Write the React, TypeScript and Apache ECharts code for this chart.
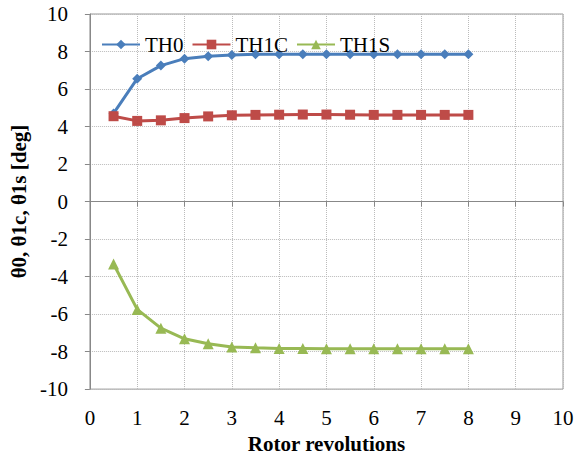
import React, { useEffect, useRef } from "react";
import * as echarts from "echarts";

const revolutions = [0.5, 1, 1.5, 2, 2.5, 3, 3.5, 4, 4.5, 5, 5.5, 6, 6.5, 7, 7.5, 8];
const th0 = [4.7, 6.55, 7.25, 7.62, 7.75, 7.82, 7.85, 7.86, 7.86, 7.86, 7.86, 7.86, 7.86, 7.86, 7.86, 7.86];
const th1c = [4.55, 4.3, 4.33, 4.45, 4.54, 4.6, 4.62, 4.63, 4.64, 4.64, 4.63, 4.62, 4.62, 4.62, 4.62, 4.62];
const th1s = [-3.33, -5.75, -6.75, -7.32, -7.58, -7.75, -7.8, -7.83, -7.84, -7.85, -7.85, -7.85, -7.85, -7.85, -7.85, -7.85];

const font = "serif";

export default function App() {
  const ref = useRef<HTMLDivElement>(null);
  useEffect(() => {
    const chart = echarts.init(ref.current!, undefined, { renderer: "svg" });
    const mk = (arr: number[]) => revolutions.map((x, i) => [x, arr[i]]);
    const diamond = "path://M0,-1L1,0L0,1L-1,0Z";
    const txt = (size: number, bold = false) => ({
      fontFamily: font,
      fontSize: size,
      fontWeight: bold ? "bold" : "normal",
      color: "#000",
    });
    chart.setOption({
      animation: false,
      backgroundColor: "#fff",
      textStyle: { fontFamily: font },
      grid: { left: 85, width: 478, top: 14, height: 385, show: true, borderColor: "#999", borderWidth: 1 },
      legend: {
        left: 96,
        top: 29,
        itemWidth: 38,
        itemHeight: 12,
        itemGap: 8,
        textStyle: txt(21),
        data: ["TH0", "TH1C", "TH1S"],
      },
      xAxis: {
        type: "value",
        min: 0,
        max: 10,
        interval: 1,
        name: "Rotor revolutions",
        nameLocation: "middle",
        nameGap: 38,
        nameTextStyle: txt(21, true),
        axisLine: { lineStyle: { color: "#888", width: 1 } },
        axisTick: { show: true, length: 5, lineStyle: { color: "#888" } },
        axisLabel: { ...txt(21), margin: 18 },
        splitLine: { show: true, lineStyle: { color: "#bbb", type: "dotted", width: 1 } },
      },
      yAxis: {
        type: "value",
        min: -10,
        max: 10,
        interval: 2,
        name: "θ0, θ1c, θ1s [deg]",
        nameLocation: "middle",
        nameGap: 58,
        nameRotate: 90,
        nameTextStyle: txt(21, true),
        axisLine: { show: true, lineStyle: { color: "#888", width: 1 } },
        axisTick: { show: true, length: 5, lineStyle: { color: "#888" } },
        axisLabel: { ...txt(21), margin: 22 },
        splitLine: { show: true, lineStyle: { color: "#bbb", type: "dotted", width: 1 } },
      },
      series: [
        {
          name: "TH0",
          type: "line",
          data: mk(th0),
          symbol: diamond,
          symbolSize: 10,
          color: "#4A7EBB",
          lineStyle: { width: 3 },
        },
        {
          name: "TH1C",
          type: "line",
          data: mk(th1c),
          symbol: "rect",
          symbolSize: 10,
          color: "#BE4B48",
          lineStyle: { width: 3 },
        },
        {
          name: "TH1S",
          type: "line",
          data: mk(th1s),
          symbol: "triangle",
          symbolSize: 11,
          color: "#98B954",
          lineStyle: { width: 3 },
        },
      ],
    });
    return () => chart.dispose();
  }, []);
  return <div ref={ref} style={{ width: 577, height: 459, position: "absolute", left: 0, top: 0 }} />;
}
